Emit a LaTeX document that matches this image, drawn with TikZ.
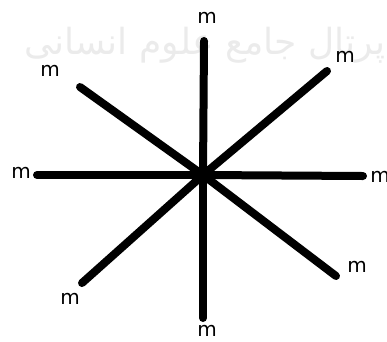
\documentclass[tikz,border=0pt]{standalone}
\usepackage{fontspec}
\setmainfont{DejaVu Sans}
\newfontfamily\arabicfont[Script=Arabic]{DejaVu Sans}
\TeXXeTstate=1
\begin{document}
\begin{tikzpicture}[x=1pt,y=-1pt,
    spoke/.style={line width=8pt, line cap=round},
    lbl/.style={inner sep=0pt, font=\fontsize{20}{20}\selectfont}]
    \clip (0,0) rectangle (387,341);
    % faint watermark behind the star
    \node[text=black!8, font=\arabicfont\fontsize{36}{36}\selectfont] (wm) at (205,45) {\beginR پرتال جامع علوم انسانی\endR};

    % centre and the ends of the spokes
    \coordinate (c) at (203,175);
    \coordinate (eN)  at (204,41);
    \coordinate (eNE) at (327,71);
    \coordinate (eE)  at (363,176);
    \coordinate (eSE) at (336,276);
    \coordinate (eS)  at (203,318);
    \coordinate (eSW) at (82,283);
    \coordinate (eW)  at (37,175);
    \coordinate (eNW) at (80,87);

    \foreach \e in {eN,eNE,eE,eSE,eS,eSW,eW,eNW}
        \draw[spoke] (c) -- (\e);

    % labels
    \node[lbl] (mN)  at (207,18)  {m};
    \node[lbl] (mNE) at (345,57)  {m};
    \node[lbl] (mE)  at (380,177) {m};
    \node[lbl] (mSE) at (357,267) {m};
    \node[lbl] (mS)  at (207,331) {m};
    \node[lbl] (mSW) at (70,299)  {m};
    \node[lbl] (mW)  at (21,173)  {m};
    \node[lbl] (mNW) at (50,71)   {m};
\end{tikzpicture}
\end{document}
